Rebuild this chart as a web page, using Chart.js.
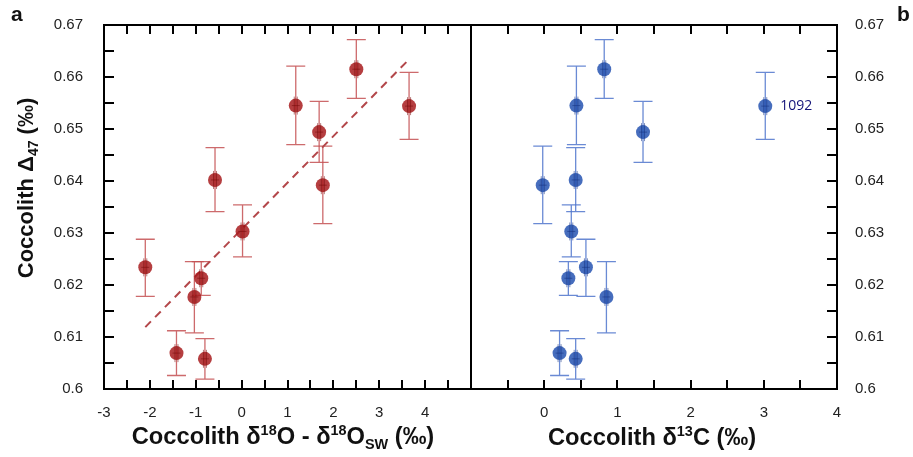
<!DOCTYPE html>
<html>
<head>
<meta charset="utf-8">
<script src="https://cdn.jsdelivr.net/npm/chart.js@4.4.1/dist/chart.umd.min.js"></script>
<style>
  body { margin: 0; background: #fff; }
  #wrap { position: relative; width: 913px; height: 457px; overflow: hidden; font-family: "Liberation Sans", Arial, sans-serif; }
  canvas { position: absolute; left: 0; top: 0; }
  .lbl { position: absolute; font-weight: bold; color: #111; white-space: nowrap; }
  .lbl sup, .lbl sub { font-size: 14px; }
</style>
</head>
<body>
<div id="wrap">
  <canvas id="left" width="913" height="457"></canvas>
  <canvas id="right" width="913" height="457"></canvas>
  <div class="lbl" style="left:11px; top:2px; font-size:21px;">a</div>
  <div class="lbl" style="left:897px; top:2px; font-size:21px;">b</div>
  <div class="lbl" id="ytitle" style="left:27px; top:188px; font-size:22px; transform: translate(-50%,-50%) rotate(-90deg);">Coccolith &Delta;<sub>47</sub> (&permil;)</div>
  <div class="lbl" style="left:283px; top:437px; font-size:23px; transform: translate(-50%,-50%) scaleX(1.03);">Coccolith &delta;<sup>18</sup>O - &delta;<sup>18</sup>O<sub>SW</sub> (&permil;)</div>
  <div class="lbl" style="left:652px; top:437px; font-size:23px; transform: translate(-50%,-50%) scaleX(1.03);">Coccolith &delta;<sup>13</sup>C (&permil;)</div>
</div>
<script>
// Δ47 and error bar ends (same samples in both panels)
const d47    = [0.6402, 0.6545, 0.6494, 0.6615, 0.6544, 0.6392, 0.6303, 0.6234, 0.6213, 0.6177, 0.6069, 0.6058];
const d47Hi  = [0.6464, 0.6621, 0.6553, 0.6672, 0.6609, 0.6467, 0.6354, 0.6288, 0.6245, 0.6245, 0.6112, 0.6097];
const d47Lo  = [0.6341, 0.6470, 0.6436, 0.6559, 0.6480, 0.6318, 0.6254, 0.6178, 0.6180, 0.6108, 0.6026, 0.6019];
// x values
const d18O   = [-0.58, 1.18, 1.69, 2.50, 3.65, 1.77, 0.02, -2.10, -0.88, -1.03, -1.42, -0.80];
const d13C   = [0.43, 0.44, 1.35, 0.82, 3.02, -0.02, 0.37, 0.57, 0.33, 0.85, 0.21, 0.43];
// regression line ends
const fitX = [-2.10, 3.65];
const fitY = [0.6119, 0.6634];
const sampleLabels = ['', '', '', '', '1092', '', '', '', '', '', '', ''];

const yTicks = [0.6, 0.61, 0.62, 0.63, 0.64, 0.65, 0.66, 0.67];

function pts(xs) {
  return xs.map((x, i) => ({ x: x, y: d47[i] }));
}

// box, inward ticks, error bars, small crosshairs and labels
const decor = {
  id: 'decor',
  beforeDatasetsDraw(chart, args, opts) {
    const ctx = chart.ctx, xs = chart.scales.x, ys = chart.scales.y;
    ctx.save();
    ctx.strokeStyle = opts.errColor;
    ctx.lineWidth = 1.3;
    const xv = opts.xvals;
    for (let i = 0; i < xv.length; i++) {
      const px = xs.getPixelForValue(xv[i]);
      const top = ys.getPixelForValue(d47Hi[i]);
      const bot = ys.getPixelForValue(d47Lo[i]);
      ctx.beginPath();
      ctx.moveTo(px, top); ctx.lineTo(px, bot);
      ctx.moveTo(px - 9.5, top); ctx.lineTo(px + 9.5, top);
      ctx.moveTo(px - 9.5, bot); ctx.lineTo(px + 9.5, bot);
      ctx.stroke();
    }
    ctx.restore();
  },
  afterDatasetsDraw(chart, args, opts) {
    const ctx = chart.ctx, xs = chart.scales.x, ys = chart.scales.y;
    const a = chart.chartArea;
    ctx.save();
    // crosshairs on markers
    ctx.strokeStyle = opts.crossColor;
    ctx.lineWidth = 1;
    const xv = opts.xvals;
    for (let i = 0; i < xv.length; i++) {
      const px = xs.getPixelForValue(xv[i]);
      const py = ys.getPixelForValue(d47[i]);
      ctx.beginPath();
      ctx.moveTo(px - 4, py); ctx.lineTo(px + 4, py);
      ctx.moveTo(px - 1.5, py - 9); ctx.lineTo(px - 1.5, py + 9);
      ctx.moveTo(px + 1.5, py - 9); ctx.lineTo(px + 1.5, py + 9);
      ctx.stroke();
      if (opts.labels && opts.labels[i]) {
        ctx.fillStyle = '#14147a';
        ctx.font = '14px "Open Sans", "DejaVu Sans", sans-serif';
        ctx.textBaseline = 'middle';
        ctx.textAlign = 'left';
        ctx.fillText(opts.labels[i], px + 15, py);
      }
    }
    // frame
    ctx.strokeStyle = '#000';
    ctx.lineWidth = 2;
    ctx.strokeRect(a.left, a.top, a.right - a.left, a.bottom - a.top);
    // x ticks top and bottom, every 0.5
    ctx.beginPath();
    for (let v = xs.min + 0.5; v < xs.max - 0.01; v += 0.5) {
      const px = Math.round(xs.getPixelForValue(v));
      ctx.moveTo(px, a.top); ctx.lineTo(px, a.top + 9);
      ctx.moveTo(px, a.bottom); ctx.lineTo(px, a.bottom - 9);
    }
    // y ticks every 0.005 on one side
    for (let v = 0.605; v < 0.6699; v += 0.005) {
      const py = Math.round(ys.getPixelForValue(v));
      if (opts.ySide === 'left') {
        ctx.moveTo(a.left, py); ctx.lineTo(a.left + 10, py);
      } else {
        ctx.moveTo(a.right, py); ctx.lineTo(a.right - 10, py);
      }
    }
    ctx.stroke();
    ctx.restore();
  }
};

const tickFont = { family: '"Liberation Sans", Arial, sans-serif', size: 15 };

function makeChart(id, xvals, xmin, xmax, xLabelMin, xLabelMax, side, color, errColor, extra, labels) {
  const datasets = [{
    type: 'scatter',
    data: pts(xvals),
    backgroundColor: color,
    borderWidth: 0,
    pointRadius: 7,
    order: 1
  }];
  if (extra) datasets.push(extra);
  return new Chart(document.getElementById(id), {
    type: 'scatter',
    data: { datasets: datasets },
    plugins: [decor],
    options: {
      responsive: false,
      animation: false,
      events: [],
      layout: {
        padding: side === 'left'
          ? { left: 0, right: 442, top: 25, bottom: 0 }
          : { left: 471, right: 0, top: 25, bottom: 0 }
      },
      scales: {
        x: {
          type: 'linear',
          position: 'bottom',
          min: xmin, max: xmax,
          grid: { display: false },
          border: { display: false },
          afterFit: (s) => { s.height = 68; },
          afterBuildTicks: (s) => {
            const t = [];
            for (let v = xLabelMin; v <= xLabelMax; v++) t.push({ value: v });
            s.ticks = t;
          },
          ticks: {
            autoSkip: false, maxRotation: 0, padding: 7,
            color: '#222', font: tickFont,
            callback: (v) => String(Math.round(v))
          }
        },
        y: {
          type: 'linear',
          position: side,
          min: 0.6, max: 0.67,
          grid: { display: false },
          border: { display: false },
          afterFit: (s) => { s.width = side === 'left' ? 104 : 76; },
          afterBuildTicks: (s) => { s.ticks = yTicks.map(v => ({ value: v })); },
          ticks: {
            autoSkip: false, padding: side === 'left' ? 13 : 10,
            color: '#222', font: tickFont,
            callback: (v) => String(Math.round(v * 100) / 100)
          }
        }
      },
      plugins: {
        legend: { display: false },
        tooltip: { enabled: false },
        decor: {
          xvals: xvals, ySide: side, errColor: errColor,
          crossColor: side === 'left' ? 'rgba(120,10,10,0.55)' : 'rgba(20,50,130,0.55)',
          labels: labels
        }
      }
    }
  });
}

makeChart('left', d18O, -3, 5, -3, 4, 'left',
  'rgba(168,28,30,0.85)', 'rgba(196,80,82,0.85)',
  {
    type: 'line',
    data: fitX.map((x, i) => ({ x: x, y: fitY[i] })),
    borderColor: '#b3474a',
    borderWidth: 2,
    borderDash: [8, 6],
    pointRadius: 0,
    fill: false,
    order: 2
  }, null);

makeChart('right', d13C, -1, 4, 0, 4, 'right',
  'rgba(38,84,178,0.85)', 'rgba(80,118,205,0.85)', null, sampleLabels);
</script>
</body>
</html>
